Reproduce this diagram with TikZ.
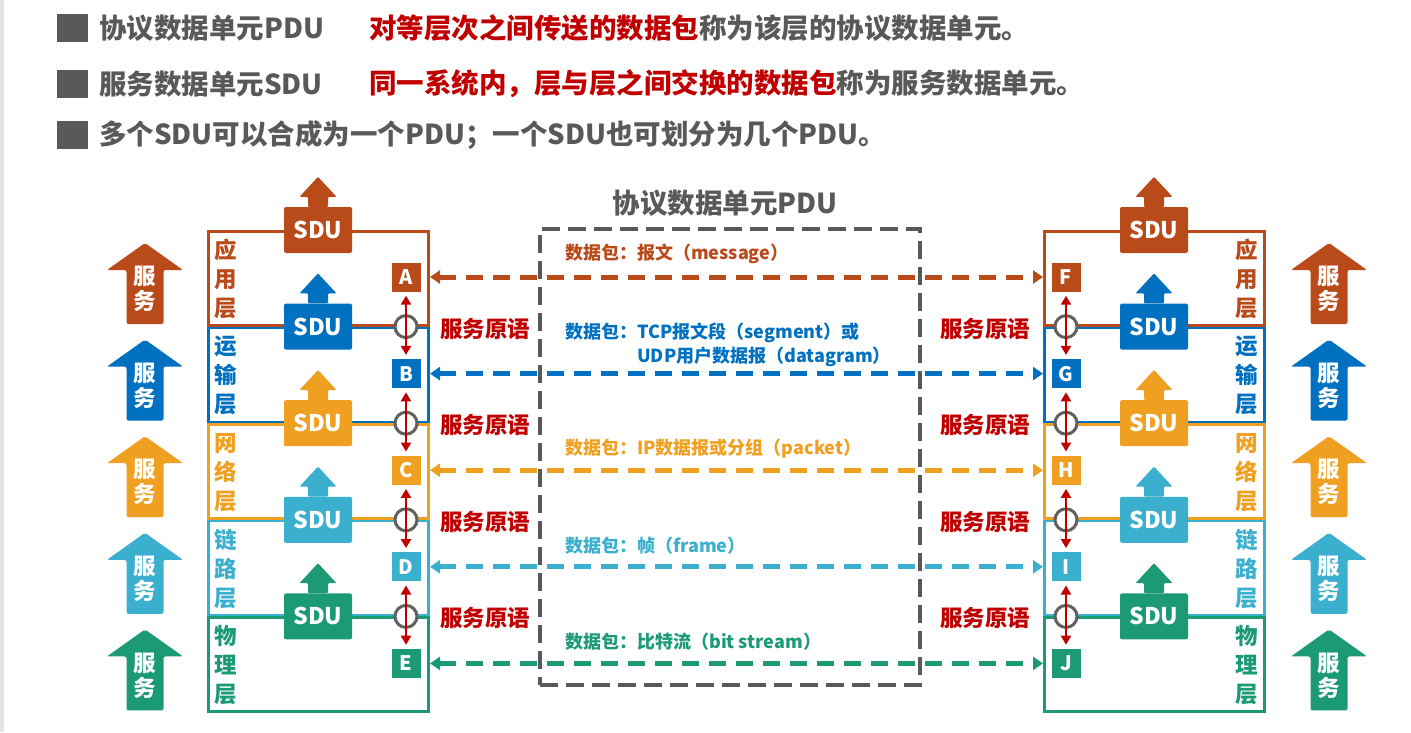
\documentclass[tikz,border=0pt]{standalone}
\usepackage{fontspec}
\setmainfont{Noto Sans CJK SC}
\usepackage{tikz}
\usetikzlibrary{arrows.meta,calc}
\definecolor{capp}{HTML}{B94A19}
\definecolor{ctra}{HTML}{0070C0}
\definecolor{cnet}{HTML}{F0A020}
\definecolor{clnk}{HTML}{3AAFCE}
\definecolor{cphy}{HTML}{1C9A76}
\definecolor{cred}{HTML}{C00000}
\definecolor{cgray}{HTML}{595959}
\definecolor{cring}{HTML}{606060}
\tikzset{
  layer/.style={draw=#1, line width=2.6pt, minimum width=220.4, minimum height=94, inner sep=0pt},
  sdu/.style={fill=#1, text=white, font=\fontsize{23}{24}\selectfont\bfseries, rounded corners=2pt,
              minimum width=68, minimum height=46, inner sep=0pt},
  sap/.style={fill=#1, text=white, font=\fontsize{20}{22}\selectfont\bfseries, minimum size=29, inner sep=0pt},
  lname/.style={text=#1, font=\fontsize{22.5}{29}\selectfont\bfseries, align=center, inner sep=0pt},
  svc/.style={text=white, font=\fontsize{22.5}{25}\selectfont\bfseries, align=center, inner sep=0pt},
  prim/.style={text=cred, font=\fontsize{22.5}{24}\selectfont\bfseries, inner sep=0pt},
  pkt/.style={text=#1, font=\fontsize{18}{24}\selectfont\bfseries, anchor=west, align=left, inner sep=0pt},
  peer/.style={draw=#1, line width=5pt, dash pattern=on 17pt off 10pt,
               arrows={Triangle[length=10pt,width=13pt]-Triangle[length=10pt,width=13pt]}},
  ring/.style={circle, draw=cring, fill=white, line width=3pt, minimum size=22, inner sep=0pt},
  primarrow/.style={draw=cred, line width=2.2pt, shorten <=4pt, shorten >=4pt,
                    arrows={Triangle[length=9pt,width=10pt]-Triangle[length=9pt,width=10pt]}},
  bullet/.style={fill=cgray, minimum width=31, minimum height=28, inner sep=0pt},
  head/.style={text=cgray, font=\fontsize{27.5}{30}\selectfont\bfseries, anchor=west, inner sep=0pt},
}

\begin{document}
\begin{tikzpicture}[x=1pt, y=1pt]
\useasboundingbox (0,0) rectangle (1411,-732);
\fill[black!10] (0,0) rectangle (4,-732);

% header lines
\node[bullet] (b1) at (72.5,-28) {};
\node[bullet] (b2) at (72.5,-84) {};
\node[bullet] (b3) at (72.5,-135) {};
\node[head] (h1) at (99,-28) {协议数据单元PDU};
\node[head] (h1r) at (369,-28) {\textcolor{cred}{对等层次之间传送的数据包}称为该层的协议数据单元。};
\node[head] (h2) at (99,-84) {服务数据单元SDU};
\node[head] (h2r) at (369,-84) {\textcolor{cred}{同一系统内，层与层之间交换的数据包}称为服务数据单元。};
\node[head] (h3) at (99,-135) {多个SDU可以合成为一个PDU；一个SDU也可划分为几个PDU。};

% PDU box
\node[draw=cgray, line width=4.5pt, dash pattern=on 18pt off 8pt, minimum width=380, minimum height=456,
      inner sep=0pt] (pdubox) at (730,-457) {};
\node[text=cgray, font=\fontsize{27.5}{30}\selectfont\bfseries, inner sep=0pt] (pdutitle) at (725,-203) {协议数据单元PDU};

% the two stacks
\foreach \i/\c/\nm/\l/\r in {1/capp/{应\\用\\层}/A/F,2/ctra/{运\\输\\层}/B/G,3/cnet/{网\\络\\层}/C/H,
                             4/clnk/{链\\路\\层}/D/I,5/cphy/{物\\理\\层}/E/J}{
  \pgfmathsetmacro\t{230+96.6*(\i-1)}
  \node[layer=\c] (L\i) at (318.5,-\t-48.3) {};
  \node[layer=\c] (R\i) at (1154.5,-\t-48.3) {};
  \node[lname=\c] (Ln\i) at (226,-\t-49) {\nm};
  \node[lname=\c] (Rn\i) at (1247,-\t-49) {\nm};
  \node[sap=\c] (\l) at (406,-\t-47) {\l};
  \node[sap=\c] (\r) at (1066,-\t-47) {\r};
  % SDU handed up
  \foreach \s/\x in {L/318,R/1154}{
    \node[sdu=\c] (sdu\s\i) at (\x,-\t) {SDU};
    \fill[\c, rounded corners=1pt] ([xshift=-10pt]sdu\s\i.north) -- ++(0,10) -- ++(-8.5,0) -- ++(18.5,20)
      -- ++(18.5,-20) -- ++(-8.5,0) -- ++(0,-10) -- cycle;
  }
  % service arrows
  \foreach \s/\x in {L/145,R/1329}{
    \fill[\c, rounded corners=2pt, shift={(\x,-\t-59)}] (-18.5,-35) -- (-18.5,19) -- (-38,19) -- (0,46)
      -- (38,19) -- (18.5,19) -- (18.5,-35) -- cycle;
    \node[svc] (svc\s\i) at (\x,-\t-59) {服\\务};
  }
  \draw[peer=\c] (L\i.east |- \l) -- (R\i.west |- \r);
}

% service access points between layers
\foreach \u/\d/\i in {A/B/2,B/C/3,C/D/4,D/E/5}{
  \pgfmathsetmacro\t{230+96.6*(\i-1)}
  \node[ring] (ringL\i) at (406,-\t) {};
  \draw[primarrow] (\u.south) -- (\d.north);
  \node[prim] (primL\i) at (485,-\t-2) {服务原语};
}
\foreach \u/\d/\i in {F/G/2,G/H/3,H/I/4,I/J/5}{
  \pgfmathsetmacro\t{230+96.6*(\i-1)}
  \node[ring] (ringR\i) at (1066,-\t) {};
  \draw[primarrow] (\u.south) -- (\d.north);
  \node[prim] (primR\i) at (985,-\t-2) {服务原语};
}

% packet names
\node[pkt=capp] (p1) at (565,-254) {数据包：报文（message）};
\node[pkt=ctra] (p2) at (565,-345) {数据包：TCP报文段（segment）或\\\hphantom{数据包：}UDP用户数据报（datagram）};
\node[pkt=cnet] (p3) at (565,-449) {数据包：IP数据报或分组（packet）};
\node[pkt=clnk] (p4) at (565,-546) {数据包：帧（frame）};
\node[pkt=cphy] (p5) at (565,-642) {数据包：比特流（bit stream）};
\end{tikzpicture}
\end{document}
